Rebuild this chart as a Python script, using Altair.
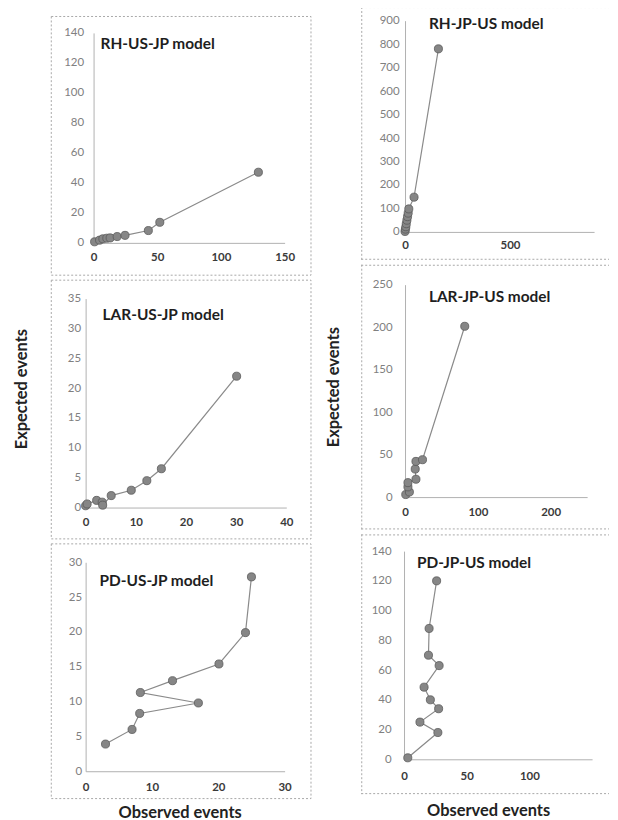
import altair as alt
import pandas as pd

# ---------------- data ----------------
rh_us_jp_obs = [0.8, 4.7, 7.3, 10.4, 13, 18.5, 24.7, 43, 52, 129.4]
rh_us_jp_exp = [0.7, 1.8, 2.7, 3.1, 3.3, 4.2, 5.0, 8.2, 13.7, 47.1]

lar_us_jp_obs = [0, 0.3, 2.2, 3.3, 3.4, 5.1, 9.1, 12.2, 15.1, 30.1]
lar_us_jp_exp = [0.3, 0.6, 1.2, 0.9, 0.4, 2.0, 2.9, 4.5, 6.5, 22.0]

pd_us_jp_obs = [3.0, 7.0, 8.15, 17.0, 8.25, 13.1, 20.1, 24.1, 25.0]
pd_us_jp_exp = [3.9, 6.0, 8.3, 9.8, 11.3, 13.0, 15.4, 19.9, 27.9]

rh_jp_us_obs = [0, 2, 4, 6, 9, 12, 15, 18, 43, 159]
rh_jp_us_exp = [2, 12, 22, 35, 50, 65, 80, 98, 148, 780]

lar_jp_us_obs = [1, 6, 4, 4, 15, 14, 15, 24, 82]
lar_jp_us_exp = [3, 6, 12, 17, 21, 33, 42, 44, 201]

pd_jp_us_obs = [3, 27, 12.7, 27.6, 21, 16, 28, 19.5, 20, 26]
pd_jp_us_exp = [1, 18, 25, 34, 40, 48.5, 63, 70, 88, 120]

titles = ["RH-US-JP model", "LAR-US-JP model", "PD-US-JP model",
          "RH-JP-US model", "LAR-JP-US model", "PD-JP-US model"]
x_axis_title = "Observed events"
y_axis_title = "Expected events"

# tick values
xt_rh_us = [0, 50, 100, 150]
yt_rh_us = [0, 20, 40, 60, 80, 100, 120, 140]
xt_lar_us = [0, 10, 20, 30, 40]
yt_lar_us = [0, 5, 10, 15, 20, 25, 30, 35]
xt_pd_us = [0, 10, 20, 30]
yt_pd_us = [0, 5, 10, 15, 20, 25, 30]
xt_rh_jp = [0, 500]
yt_rh_jp = [0, 100, 200, 300, 400, 500, 600, 700, 800, 900]
xt_lar_jp = [0, 100, 200]
yt_lar_jp = [0, 50, 100, 150, 200, 250]
xt_pd_jp = [0, 50, 100]
yt_pd_jp = [0, 20, 40, 60, 80, 100, 120, 140]

FONT = "Lato"
FRAME = "#a8a8a8"


def open_frame(w, h):
    """Dotted frame open on the right side (the reference is cut there)."""
    d = pd.DataFrame({"k": [0]})
    sty = dict(color=FRAME, strokeDash=[2, 2], strokeWidth=1)
    top = alt.Chart(d).mark_rule(**sty).encode(
        x=alt.value(0), x2=alt.value(w), y=alt.value(0.5))
    bot = alt.Chart(d).mark_rule(**sty).encode(
        x=alt.value(0), x2=alt.value(w), y=alt.value(h - 0.5))
    lft = alt.Chart(d).mark_rule(**sty).encode(
        x=alt.value(0.5), y=alt.value(0), y2=alt.value(h))
    return [top, bot, lft]


def panel(obs, exp, name, w, h, xdom, ydom, xrange_, yrange_, xticks, yticks,
          ylabpad, xlabpad, tx, ty, extra=None, openright=False):
    df = pd.DataFrame({"obs": obs, "exp": exp, "i": list(range(len(obs)))})
    xoff = yrange_[0] - h
    yoff = -xrange_[0]
    x = alt.X("obs:Q",
              scale=alt.Scale(domain=xdom, range=xrange_, nice=False, zero=False),
              axis=alt.Axis(values=xticks, offset=xoff, title=None, grid=False,
                            ticks=False, labelFlush=False, labelOverlap=False,
                            labelPadding=xlabpad, domainColor="#b0b0b0",
                            labelColor="#3a3a3a", labelFontWeight="bold",
                            labelFont=FONT, labelFontSize=11.5))
    y = alt.Y("exp:Q",
              scale=alt.Scale(domain=ydom, range=yrange_, nice=False, zero=False),
              axis=alt.Axis(values=yticks, offset=yoff, title=None, grid=False,
                            ticks=False, labelFlush=False, labelOverlap=False,
                            labelPadding=ylabpad, domainColor="#b0b0b0",
                            labelColor="#808080", labelFont=FONT,
                            labelFontSize=11.5))
    base = alt.Chart(df)
    line = base.mark_line(color="#8a8a8a", strokeWidth=1.2).encode(
        x=x, y=y, order="i:Q")
    pts = base.mark_circle(size=66, color="#868686", opacity=1,
                           stroke="#5a5a5a", strokeWidth=0.8).encode(x=x, y=y)
    ttl = alt.Chart(pd.DataFrame({"t": [name]})).mark_text(
        align="left", baseline="middle", fontSize=15.5, fontWeight="bold",
        font=FONT, color="#1e1e1e").encode(
        x=alt.value(tx), y=alt.value(ty), text="t:N")
    layers = [line, pts, ttl] + (extra or [])
    if openright:
        layers = open_frame(w, h) + layers
    ch = alt.layer(*layers).properties(width=w, height=h)
    if openright:
        ch = ch.properties(view=alt.ViewBackground(stroke="transparent"))
    return ch


def side_text(txt, px, py, angle=0):
    return alt.Chart(pd.DataFrame({"t": [txt]})).mark_text(
        align="center", baseline="middle", fontSize=16.5, fontWeight="bold",
        font=FONT, color="#222222", angle=angle).encode(
        x=alt.value(px), y=alt.value(py), text="t:N")


RW = 249

L1 = panel(rh_us_jp_obs, rh_us_jp_exp, titles[0], 261, 260, [0, 150], [0, 140],
           [43, 235], [228, 17], xt_rh_us, yt_rh_us, 10, 9, 50, 28)
L2 = panel(lar_us_jp_obs, lar_us_jp_exp, titles[1], 261, 260, [0, 40], [0, 35],
           [35, 236.7], [229, 19], xt_lar_us, yt_lar_us, 5, 9, 52, 36,
           extra=[side_text(y_axis_title, -29, 110, 270)])
L3 = panel(pd_us_jp_obs, pd_us_jp_exp, titles[2], 261, 256, [0, 30], [0, 30],
           [35, 235], [229, 19], xt_pd_us, yt_pd_us, 4, 10, 49, 38,
           extra=[side_text(x_axis_title, 130, 271)])

R1 = panel(rh_jp_us_obs, rh_jp_us_exp, titles[3], RW, 254, [0, 900], [0, 900],
           [44, 234], [226, 13.7], xt_rh_jp, yt_rh_jp, 6, 8, 68, 17,
           openright=True)
R2 = panel(lar_jp_us_obs, lar_jp_us_exp, titles[4], RW, 266, [0, 250], [0, 250],
           [44, 227], [233.5, 20], xt_lar_jp, yt_lar_jp, 13, 9, 68, 32,
           extra=[side_text(y_axis_title, -27, 123, 270)], openright=True)
R3 = panel(pd_jp_us_obs, pd_jp_us_exp, titles[5], RW, 261, [0, 150], [0, 140],
           [43, 232], [226, 16.8], xt_pd_jp, yt_pd_jp, 13, 11, 56, 29,
           extra=[side_text(x_axis_title, 128, 278)], openright=True)

spacer = alt.Chart(pd.DataFrame({"a": []})).mark_point().encode(
    x=alt.value(0), y=alt.value(0)
).properties(width=261, height=4, view=alt.ViewBackground(stroke="transparent"))

left = alt.vconcat(spacer, L1, L2, L3, spacing=3)
right = alt.vconcat(R1, R2, R3, spacing=3)

chart = alt.hconcat(left, right, spacing=14).properties(
    padding={"left": 5, "top": -4, "right": 0, "bottom": 0},
    background="white",
).configure_view(stroke=FRAME, strokeDash=[2, 2], strokeWidth=1)

chart.save("out.html", embed_options={"renderer": "svg", "actions": False})
